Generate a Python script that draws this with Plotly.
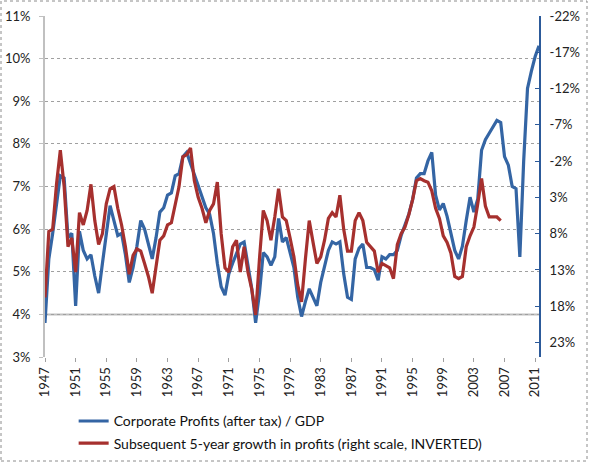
import plotly.graph_objects as go

# Corporate profits (after tax) / GDP, %, half-yearly from 1947
profits_gdp = [
    3.8, 5.3, 5.9, 6.6, 7.25, 7.2, 5.8, 5.9, 4.2, 5.95,
    5.5, 5.3, 5.4, 4.9, 4.5, 5.2, 5.95, 6.55, 6.2, 5.85,
    5.9, 5.4, 4.75, 5.1, 5.6, 6.2, 6.0, 5.65, 5.3, 5.8,
    6.4, 6.5, 6.8, 6.85, 7.25, 7.3, 7.7, 7.8, 7.55, 7.3,
    7.05, 6.75, 6.5, 6.35, 5.9, 5.2, 4.65, 4.45, 4.95, 5.2,
    5.45, 5.65, 5.7, 5.2, 4.6, 3.8, 4.5, 5.45, 5.35, 5.15,
    5.35, 6.25, 5.7, 5.8, 5.45, 5.1, 4.4, 3.95, 4.3, 4.6,
    4.4, 4.2, 4.75, 5.1, 5.5, 5.7, 5.65, 5.7, 4.95, 4.4,
    4.35, 5.3, 5.55, 5.65, 5.1, 5.1, 5.05, 4.8, 5.35, 5.3,
    5.4, 5.4, 5.5, 5.85, 6.1, 6.35, 6.7, 7.2, 7.3, 7.3,
    7.6, 7.8, 6.8, 6.45, 6.6, 6.3, 5.9, 5.5, 5.3, 5.6,
    6.2, 6.75, 6.4, 6.7, 7.85, 8.1, 8.25, 8.4, 8.55, 8.5,
    7.7, 7.5, 7.0, 6.95, 5.35, 7.6, 9.3, 9.7, 10.05, 10.3,
]

# Subsequent 5-year growth in profits, % (plotted on inverted right scale)
growth_5y = [
    16.8, 7.7, 7.4, 1.2, -3.5, 1.5, 9.8, 8.6, 13.3, 5.1,
    6.8, 4.8, 1.2, 6.2, 9.5, 8.0, 3.9, 1.8, 1.5, 4.5,
    6.8, 9.8, 13.6, 11.0, 10.1, 10.4, 12.1, 13.9, 16.2, 12.4,
    8.9, 8.3, 6.8, 6.5, 3.9, 1.5, -2.6, -2.9, -3.8, 0.7,
    3.0, 4.5, 6.5, 4.8, 3.9, 0.9, 8.0, 12.7, 13.3, 9.8,
    8.9, 13.3, 9.8, 13.3, 15.7, 19.2, 11.5, 4.8, 6.2, 8.9,
    5.7, 1.8, 5.7, 6.2, 8.6, 11.2, 15.1, 17.4, 11.5, 6.2,
    9.2, 12.1, 11.2, 8.9, 5.9, 5.1, 5.7, 2.7, 7.4, 10.4,
    10.4, 6.2, 5.1, 6.2, 9.2, 9.8, 10.4, 13.3, 12.1, 12.4,
    12.7, 14.2, 9.5, 8.0, 7.1, 5.4, 3.3, 0.7, 0.4, 0.7,
    0.9, 2.1, 4.5, 5.9, 8.3, 9.2, 10.7, 13.9, 14.2, 13.9,
    9.8, 8.3, 7.1, 3.9, 0.4, 4.2, 5.7, 5.7, 5.7, 6.2,
]

start_year = 1947
year_ticks = list(range(1947, 2012, 4))
left_ticks = list(range(3, 12))
right_ticks = list(range(-22, 24, 5))

x_profits = [start_year + 0.5 * i for i in range(len(profits_gdp))]
x_growth = [start_year + 0.5 * i for i in range(len(growth_5y))]

BLUE = "#3465A4"
RED = "#A6302E"
FONT = "Lato"

W, H = 589, 466
ML, MR, MT, MB = 45, 50, 16, 109
PW, PH = W - ML - MR, H - MT - MB

fig = go.Figure()
fig.add_trace(go.Scatter(
    x=x_profits, y=profits_gdp, mode="lines",
    line=dict(color=BLUE, width=3.2),
    name="Corporate Profits (after tax) / GDP", legendgroup="a",
))
fig.add_trace(go.Scatter(
    x=x_growth, y=growth_5y, mode="lines", yaxis="y2",
    line=dict(color=RED, width=3.2),
    name="Subsequent 5-year growth in profits (right scale, INVERTED)", legendgroup="b",
))

# solid 4% line and dotted outer border
fig.add_shape(type="line", xref="paper", yref="y", x0=0, x1=1, y0=4, y1=4,
              line=dict(color="#c0c0c0", width=2), layer="below")
fig.add_shape(type="rect", xref="paper", yref="paper",
              x0=(1 - ML) / PW, x1=(W - 2 - ML) / PW,
              y0=-(H - 5 - MT - PH) / PH, y1=(PH + MT - 1) / PH,
              line=dict(color="#8c8c8c", width=1, dash="dot"))

fig.update_layout(
    width=W, height=H,
    margin=dict(l=ML, r=MR, t=MT, b=MB, autoexpand=False),
    paper_bgcolor="white", plot_bgcolor="white",
    font=dict(family=FONT, size=13, color="#222"),
    showlegend=True,
    legend=dict(
        orientation="v", x=0.058, y=0.13, xref="paper", yref="container",
        xanchor="left", yanchor="top",
        font=dict(family=FONT, size=14, color="#111"),
        tracegroupgap=1, itemwidth=30,
    ),
    xaxis=dict(
        range=[1947, 2011.5], tickvals=year_ticks, tickangle=-90,
        showgrid=False, zeroline=False, showline=False,
        ticks="outside", ticklen=4, tickcolor="#a0a0a0",
        tickfont=dict(size=13),
    ),
    yaxis=dict(
        range=[3, 11], tickvals=left_ticks, ticktext=[f"{v}%" for v in left_ticks],
        showgrid=True, gridcolor="#a0a0a0", griddash="dot", gridwidth=1,
        zeroline=False, showline=True, linecolor="#c0c0c0", linewidth=2,
        ticks="outside", ticklen=4, tickcolor="#c0c0c0",
        tickfont=dict(size=13), ticklabelstandoff=6,
    ),
    yaxis2=dict(
        overlaying="y", side="right", range=[25, -22],
        tickvals=right_ticks, ticktext=[f"{v}%" for v in right_ticks],
        showgrid=False, zeroline=False, showline=True,
        linecolor="#2C5A9A", linewidth=2,
        ticks="inside", ticklen=4, tickcolor="#2C5A9A",
        tickfont=dict(size=13), ticklabelstandoff=6,
    ),
)

# drop the browser's default page margin so the chart sits at the window corner
fig.write_html(
    "out.html",
    config={"displayModeBar": False},
    post_script="document.body.style.margin='0';",
)
